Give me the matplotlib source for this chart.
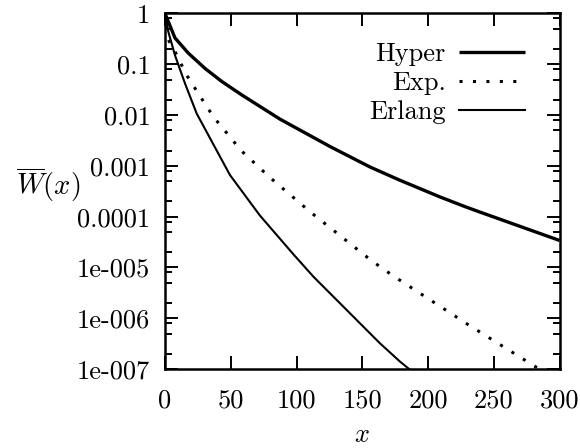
import matplotlib
matplotlib.use("Agg")
import matplotlib.pyplot as plt
from matplotlib.ticker import FixedLocator, FixedFormatter, LogLocator, NullFormatter

# ---- data ----
hyper_x = [0, 7.6, 17.7, 30.4, 43.1, 58.3, 87.5, 125.5, 155.9, 178.7, 209, 228, 239.5, 300]
hyper_y = [1.0, 0.33, 0.166, 0.083, 0.046, 0.025, 8.3e-3, 2.4e-3, 9.5e-4, 5.2e-4,
           2.45e-4, 1.58e-4, 1.23e-4, 3.4e-5]

exp_x = [0, 2.05, 7.6, 12.2, 16.7, 22.1, 27.4, 32.9, 38.6, 51.5, 57, 79.8, 110.3,
         117.9, 157.2, 173.2, 231.9, 257.3, 282.7, 295]
exp_y = [1.0, 0.32, 0.178, 0.102, 0.060, 0.036, 0.022, 0.0132, 8.1e-3, 3.2e-3, 2.1e-3,
         5.9e-4, 1.25e-4, 8.7e-5, 1.35e-5, 6.9e-6, 7.1e-7, 2.75e-7, 1.07e-7, 7.1e-8]

erl_x = [0, 2.5, 7.6, 15.2, 24.1, 49.4, 72.2, 97.6, 112.8, 163.5, 178.7, 188]
erl_y = [1.0, 0.44, 0.15, 0.042, 0.0107, 6.6e-4, 1.05e-4, 1.82e-5, 6.6e-6, 3.2e-7,
         1.4e-7, 8.9e-8]

series_labels = ["Hyper", "Exp.", "Erlang"]
xticks = [0, 50, 100, 150, 200, 250, 300]
xtick_labels = ["0", "50", "100", "150", "200", "250", "300"]
yticks = [1e-7, 1e-6, 1e-5, 1e-4, 1e-3, 1e-2, 1e-1, 1]
ytick_labels = ["1e-007", "1e-006", "1e-005", "0.0001", "0.001", "0.01", "0.1", "1"]

# ---- style ----
plt.rcParams["font.family"] = ["cmr10"]
plt.rcParams["mathtext.fontset"] = "cm"
plt.rcParams["axes.unicode_minus"] = False
FS = 19

fig = plt.figure(figsize=(5.8, 4.48), dpi=100)
ax = fig.add_axes([165 / 580, (448 - 369) / 448, 394.5 / 580, 355.5 / 448])

ax.plot(hyper_x, hyper_y, color="black", lw=2.4, solid_capstyle="butt",
        solid_joinstyle="round", label=series_labels[0])
ax.plot(exp_x, exp_y, color="black", lw=2.2, linestyle=(0, (1, 3.4)),
        dash_capstyle="butt", label=series_labels[1])
ax.plot(erl_x, erl_y, color="black", lw=1.5, solid_joinstyle="round",
        label=series_labels[2])

ax.set_yscale("log")
ax.set_xlim(0, 300)
ax.set_ylim(1e-7, 1)

ax.xaxis.set_major_locator(FixedLocator(xticks))
ax.xaxis.set_major_formatter(FixedFormatter(xtick_labels))
ax.yaxis.set_major_locator(FixedLocator(yticks))
ax.yaxis.set_major_formatter(FixedFormatter(ytick_labels))
ax.yaxis.set_minor_locator(LogLocator(base=10, subs=[2, 5, 8], numticks=20))
ax.yaxis.set_minor_formatter(NullFormatter())

for s in ax.spines.values():
    s.set_linewidth(1.8)

ax.tick_params(which="both", direction="in", top=True, right=True, width=1.4)
ax.tick_params(which="major", length=9.4, labelsize=FS)
ax.tick_params(which="minor", length=5.0)
ax.tick_params(axis="y", which="major", pad=10.5)
ax.tick_params(axis="x", which="major", pad=14)

ax.set_xlabel(r"$x$", fontsize=FS, va="center")
ax.xaxis.set_label_coords(0.5, -0.186)
ax.set_ylabel(r"$\overline{W}(x)$", fontsize=20.5, rotation=0, ha="center", va="center")
ax.yaxis.set_label_coords(-0.295, 0.518)

leg = ax.legend(loc="upper right", bbox_to_anchor=(0.9125, 0.918), frameon=False,
                markerfirst=False, fontsize=FS, handlelength=2.5, handletextpad=0.5,
                borderpad=0.0, borderaxespad=0.0, labelspacing=0.2)

fig.savefig("out.png", dpi=100)
